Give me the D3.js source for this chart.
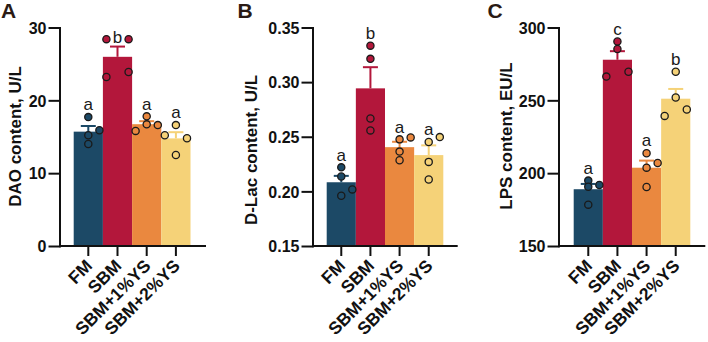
<!DOCTYPE html>
<html>
<head>
<meta charset="utf-8">
<script src="https://cdn.jsdelivr.net/npm/d3@7"></script>
<style>
  body { margin: 0; background: #fff; }
  svg { display: block; font-family: "Liberation Sans", Arial, sans-serif; }
</style>
</head>
<body>
<div id="chart"></div>
<script>
// groups on the x axis
const groups = ["FM", "SBM", "SBM+1%YS", "SBM+2%YS"];

// replicate values (n = 4 per group)
const daoValues = [[17.7, 15.9, 15.2, 14.0], [28.4, 28.4, 23.2, 23.9], [17.8, 16.7, 15.8, 16.6], [16.6, 15.2, 14.8, 12.5]];
const dlacValues = [[0.222, 0.2136, 0.2018, 0.196], [0.3334, 0.3213, 0.2667, 0.2558], [0.2476, 0.2494, 0.2364, 0.2285], [0.2452, 0.2497, 0.227, 0.2109]];
const lpsValues = [[194.9, 190.7, 191.9, 178.4], [290.4, 285.2, 266.3, 269.6], [213.7, 207.0, 203.8, 190.5], [269.6, 251.9, 239.3, 243.7]];

// which column of the scatter each dot sits in (-1 left, 0 middle, 1 right)
const daoColumn = [[0, 1, 0, 0], [-1, 1, -1, 1], [0, 0, -1, 1], [0, -1, 1, 0]];
const dlacColumn = [[0, 0, 1, 0], [0, 0, 0, 0], [0, 1, 0, 0], [0, 1, 0, 0]];
const lpsColumn = [[0, 0, 1, 0], [0, 0, -1, 1], [0, 1, 0, 0], [0, 0, -1, 1]];

// significance letters
const daoLetters = ["a", "b", "a", "a"];
const dlacLetters = ["a", "b", "a", "a"];
const lpsLetters = ["a", "c", "a", "b"];

// y tick values
const daoTicks = [0, 10, 20, 30];
const dlacTicks = [0.15, 0.20, 0.25, 0.30, 0.35];
const lpsTicks = [150, 200, 250, 300];

const colors = ["#1c4966", "#b3173b", "#ea883f", "#f5d278"];
const font = '"Liberation Sans", Arial, sans-serif';

const W = 708, H = 342;
const yTop = 27.5, yBottom = 246;

const svg = d3.select("#chart").append("svg")
  .attr("width", W)
  .attr("height", H);

const panels = [
  { letter: "A", letterX: 1, title: "DAO content, U/L", titleX: 20.5, titleY: 136.5,
    values: daoValues, column: daoColumn, letters: daoLetters, ticks: daoTicks, fmt: d3.format("d"),
    axisX: 59.5, barL: 73.7, barR: 190.5, axisEnd: 206 },
  { letter: "B", letterX: 237.5, title: "D-Lac content, U/L", titleX: 256.5, titleY: 150,
    values: dlacValues, column: dlacColumn, letters: dlacLetters, ticks: dlacTicks, fmt: d3.format(".2f"),
    axisX: 312.5, barL: 326.7, barR: 443.3, axisEnd: 457.7 },
  { letter: "C", letterX: 487.5, title: "LPS content, EU/L", titleX: 512, titleY: 136,
    values: lpsValues, column: lpsColumn, letters: lpsLetters, ticks: lpsTicks, fmt: d3.format("d"),
    axisX: 558.5, barL: 573.7, barR: 690.3, axisEnd: 705.3 }
];

panels.forEach(drawPanel);

function drawPanel(p) {
  const g = svg.append("g");

  const y = d3.scaleLinear()
    .domain([p.ticks[0], p.ticks[p.ticks.length - 1]])
    .range([yBottom, yTop]);

  const x = d3.scaleBand()
    .domain(groups)
    .range([p.barL, p.barR])
    .padding(0);
  const bw = x.bandwidth();
  const jitter = bw * 0.38;

  // mean and SEM from the replicates
  const stats = p.values.map((v, i) => ({
    name: groups[i],
    color: colors[i],
    mean: d3.mean(v),
    sem: d3.deviation(v) / Math.sqrt(v.length),
    points: v.map((val, j) => ({ val: val, col: p.column[i][j] }))
  }));

  // bars
  g.selectAll("rect.bar")
    .data(stats)
    .join("rect")
      .attr("class", "bar")
      .attr("x", d => x(d.name))
      .attr("y", d => y(d.mean))
      .attr("width", bw)
      .attr("height", d => yBottom - y(d.mean))
      .attr("fill", d => d.color);

  // error bars (upper half only)
  const err = g.selectAll("g.err")
    .data(stats)
    .join("g")
      .attr("class", "err")
      .attr("stroke", d => d.color)
      .attr("stroke-width", 2);
  err.append("line")
    .attr("x1", d => x(d.name) + bw / 2)
    .attr("x2", d => x(d.name) + bw / 2)
    .attr("y1", d => y(d.mean))
    .attr("y2", d => y(d.mean + d.sem));
  err.append("line")
    .attr("x1", d => x(d.name) + bw / 2 - 7.5)
    .attr("x2", d => x(d.name) + bw / 2 + 7.5)
    .attr("y1", d => y(d.mean + d.sem))
    .attr("y2", d => y(d.mean + d.sem));

  // y axis
  const yAxis = g.append("g")
    .attr("transform", `translate(${p.axisX},0)`)
    .call(d3.axisLeft(y).tickValues(p.ticks).tickFormat(p.fmt).tickSize(11).tickPadding(2).tickSizeOuter(0))
    .attr("font-family", font);
  yAxis.selectAll("path, line").attr("stroke", "#111").attr("stroke-width", 2);
  yAxis.select(".domain").attr("stroke-linecap", "square");
  yAxis.selectAll("text")
    .attr("fill", "#111")
    .attr("dy", "0.36em")
    .style("font-size", "16px")
    .style("font-weight", "bold");

  // x axis
  const xAxis = g.append("g")
    .attr("transform", `translate(0,${yBottom})`)
    .call(d3.axisBottom(x).tickSize(10).tickSizeOuter(0))
    .attr("font-family", font);
  xAxis.select(".domain").remove();
  xAxis.append("line")
    .attr("x1", p.axisX)
    .attr("x2", p.axisEnd)
    .attr("stroke", "#111")
    .attr("stroke-width", 2);
  xAxis.selectAll(".tick line").attr("stroke", "#111").attr("stroke-width", 2);
  xAxis.selectAll("text")
    .attr("y", 0)
    .attr("dy", 0)
    .attr("fill", "#111")
    .attr("text-anchor", "end")
    .attr("transform", "translate(5,21) rotate(-45)")
    .style("font-size", "17.5px")
    .style("font-weight", "bold");

  // dots
  g.selectAll("g.pts")
    .data(stats)
    .join("g")
      .attr("class", "pts")
      .attr("fill", d => d.color)
    .selectAll("circle")
    .data(d => d.points.map(pt => ({ ...pt, name: d.name })))
    .join("circle")
      .attr("cx", d => x(d.name) + bw / 2 + d.col * jitter)
      .attr("cy", d => y(d.val))
      .attr("r", 3.6)
      .attr("stroke", "#1a1a1a")
      .attr("stroke-width", 1.3);

  // significance letters
  g.selectAll("text.sig")
    .data(stats)
    .join("text")
      .attr("class", "sig")
      .attr("x", d => x(d.name) + bw / 2)
      .attr("y", d => {
        const errTop = y(d.mean + d.sem) - 1;
        const mid = d.points.filter(pt => pt.col === 0);
        const ptTop = mid.length ? d3.min(mid, pt => y(pt.val)) - 4.3 : Infinity;
        return Math.min(errTop, ptTop) - 2.5;
      })
      .attr("text-anchor", "middle")
      .attr("fill", "#1a1a1a")
      .style("font-size", "17px")
      .text((d, i) => p.letters[i]);

  // axis title
  g.append("text")
    .attr("transform", `translate(${p.titleX},${p.titleY}) rotate(-90)`)
    .attr("text-anchor", "middle")
    .attr("fill", "#111")
    .style("font-size", "17px")
    .style("font-weight", "bold")
    .text(p.title);

  // panel letter
  g.append("text")
    .attr("x", p.letterX)
    .attr("y", 18)
    .attr("fill", "#2a1a14")
    .style("font-size", "21px")
    .style("font-weight", "bold")
    .text(p.letter);
}
</script>
</body>
</html>
